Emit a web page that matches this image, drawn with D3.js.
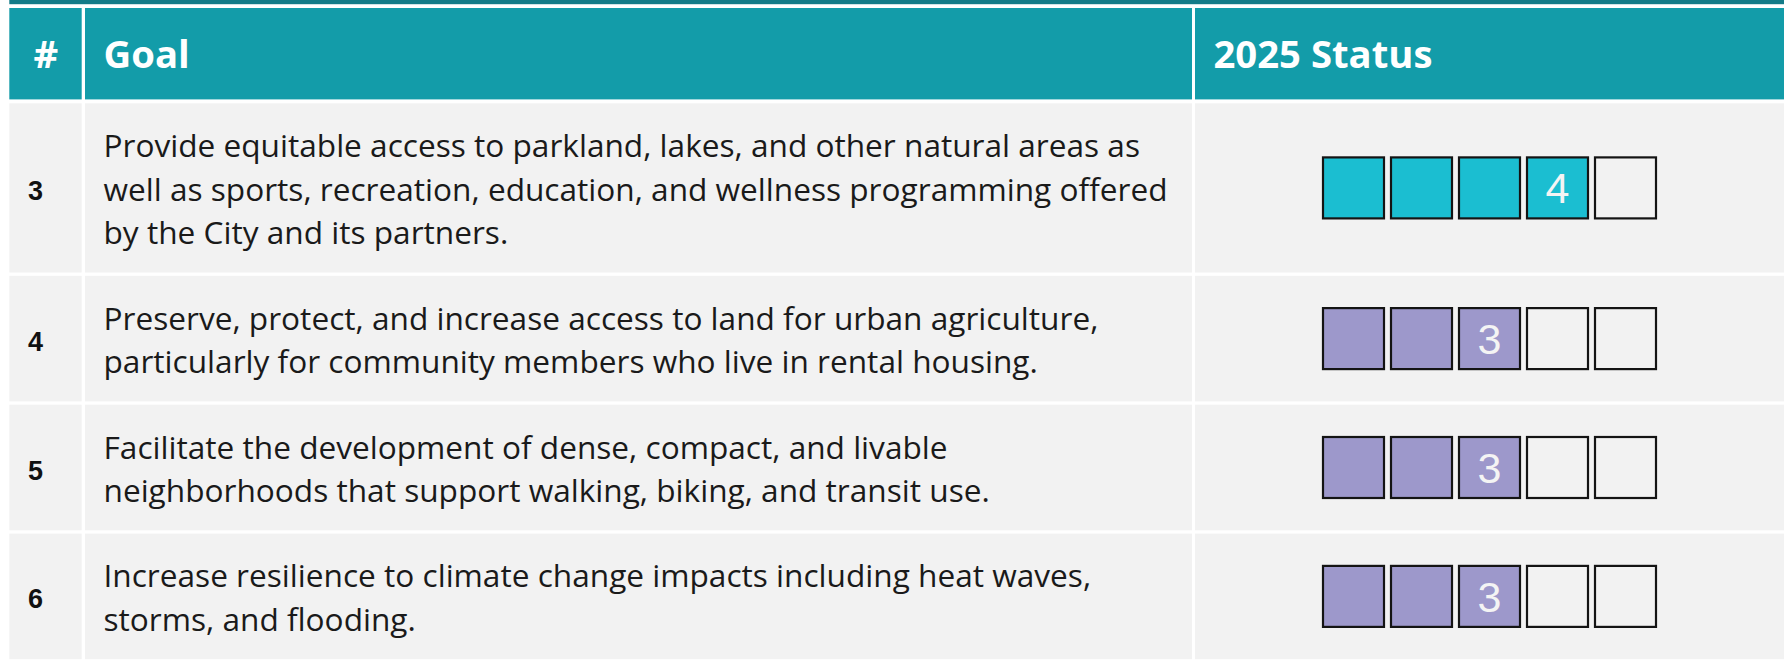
<!DOCTYPE html>
<html><head><meta charset="utf-8">
<script src="https://cdn.jsdelivr.net/npm/d3@7"></script>
<style>html,body{margin:0;padding:0;background:#fff;} svg{display:block}</style>
</head><body>
<svg id="chart" width="1786" height="660"></svg>
<script>
// ---- data ----
const headers = ["#", "Goal", "2025 Status"];
const goalNumbers = ["3", "4", "5", "6"];
const goalLines = [
  ["Provide equitable access to parkland, lakes, and other natural areas as",
   "well as sports, recreation, education, and wellness programming offered",
   "by the City and its partners."],
  ["Preserve, protect, and increase access to land for urban agriculture,",
   "particularly for community members who live in rental housing."],
  ["Facilitate the development of dense, compact, and livable",
   "neighborhoods that support walking, biking, and transit use."],
  ["Increase resilience to climate change impacts including heat waves,",
   "storms, and flooding."]
];
const statusValues = [4, 3, 3, 3];
const statusSteps = [1, 2, 3, 4, 5];
const statusLevels = [3, 4];
const statusColors = ["#9d98cb", "#1bbed1"];

// ---- layout ----
const svg = d3.select("#chart");
const cols = [[9.3, 81.7], [85, 1192], [1195, 1784]];
const headerTop = 8, headerBottom = 99.4;
const rowStart = 103.3, rowGap = 3.3, lineStep = 43.6, rowBase = 38.4;
const bodyFont = "'Open Sans', 'DejaVu Sans', sans-serif";
const colorScale = d3.scaleOrdinal().domain(statusLevels).range(statusColors);

// row geometry from number of lines
const rows = [];
let yc = rowStart;
goalLines.forEach((lines, i) => {
  const h = rowBase + lineStep * lines.length;
  rows.push({i, y0: yc, y1: yc + h, c: yc + h / 2});
  yc += h + rowGap;
});

// top rule
svg.append("rect").attr("x", cols[0][0]).attr("y", 0)
  .attr("width", cols[2][1] - cols[0][0]).attr("height", 4.2).attr("fill", "#137b88");

// header cells
svg.selectAll("rect.hdr").data(cols).join("rect").attr("class", "hdr")
  .attr("x", d => d[0]).attr("y", headerTop)
  .attr("width", d => d[1] - d[0]).attr("height", headerBottom - headerTop)
  .attr("fill", "#139ca9");

const hdrText = svg.selectAll("text.hdr").data(headers).join("text").attr("class", "hdr")
  .attr("x", (d, i) => i === 0 ? (cols[0][0] + cols[0][1]) / 2 + 0.3 : cols[i][0] + 18.5)
  .attr("y", 67.8)
  .attr("text-anchor", (d, i) => i === 0 ? "middle" : "start")
  .attr("fill", "#ffffff")
  .style("font-family", bodyFont).style("font-weight", 700).style("font-size", "40px")
  .text(d => d);
// fit header font to the reference width of "2025 Status"
const hw = hdrText.filter((d, i) => i === 2).node().getComputedTextLength();
hdrText.style("font-size", (40 * 219 / hw) + "px");

// row cells
rows.forEach(r => {
  svg.selectAll(null).data(cols).join("rect")
    .attr("x", d => d[0]).attr("y", r.y0)
    .attr("width", d => d[1] - d[0]).attr("height", r.y1 - r.y0)
    .attr("fill", "#f2f2f2");
});

// numbers
svg.selectAll("text.num").data(rows).join("text").attr("class", "num")
  .attr("x", 28).attr("y", r => r.c + 12)
  .attr("fill", "#111")
  .style("font-family", "'Liberation Sans', Arial, sans-serif").style("font-weight", 700)
  .style("font-size", "27px")
  .text(r => goalNumbers[r.i]);

// goal text
const goalG = svg.selectAll("g.goal").data(rows).join("g").attr("class", "goal");
const goalText = goalG.selectAll("text").data(r => goalLines[r.i].map((t, k) => ({t, k, n: goalLines[r.i].length, c: r.c})))
  .join("text")
  .attr("x", 103.5)
  .attr("y", d => d.c + 12.8 + (d.k - (d.n - 1) / 2) * lineStep)
  .attr("fill", "#1a1a1a")
  .style("font-family", bodyFont).style("font-weight", 400).style("font-size", "28px")
  .text(d => d.t);
const bw = goalText.filter(d => d.c === rows[0].c && d.k === 0).node().getComputedTextLength();
goalText.style("font-size", (28 * 1037 / bw) + "px");

// status squares
const cc = (cols[2][0] + cols[2][1]) / 2;
const xs = d3.scaleBand().domain(statusSteps).range([cc - 167.5, cc + 167.5]).paddingInner(5 / 68);
const sq = xs.bandwidth();
rows.forEach(r => {
  const v = statusValues[r.i];
  const g = svg.append("g");
  g.selectAll("rect").data(statusSteps).join("rect")
    .attr("x", s => xs(s) + 1).attr("y", r.c - sq / 2 + 1)
    .attr("width", sq - 2).attr("height", sq - 2)
    .attr("fill", s => s <= v ? colorScale(v) : "#f2f2f2")
    .attr("stroke", "#141414").attr("stroke-width", 2.2);
  g.append("text")
    .attr("x", xs(v) + sq / 2).attr("y", r.c + 15.5)
    .attr("text-anchor", "middle").attr("fill", "#f4f4f4")
    .style("font-family", "'Liberation Sans', Arial, sans-serif").style("font-size", "43px")
    .text(v);
});
</script>
</body></html>
